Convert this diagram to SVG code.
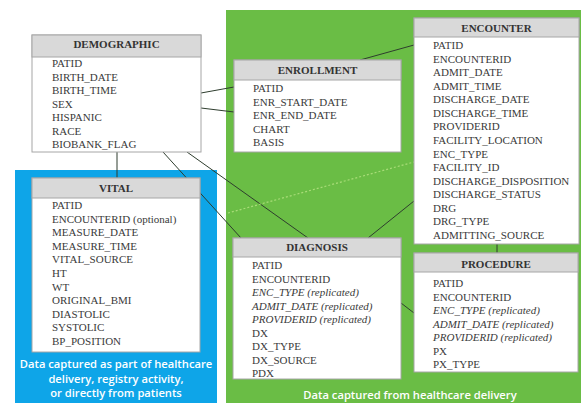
<svg xmlns="http://www.w3.org/2000/svg" width="581" height="403" viewBox="0 0 581 403">
  <style>
    .tbl { fill: #ffffff; stroke: #a6a6a6; stroke-width: 1; }
    .hdr { fill: #d9d9d9; stroke: #a6a6a6; stroke-width: 1; }
    .ttl { font-family: "Liberation Serif", "Times New Roman", serif; font-size: 11px; font-weight: bold; fill: #333333; text-anchor: middle; }
    .fld { font-family: "Liberation Serif", "Times New Roman", serif; font-size: 11px; fill: #3a3a3a; }
    .rep { font-style: italic; }
    .note { font-family: "Open Sans", "Liberation Sans", sans-serif; font-size: 11.2px; font-weight: 600; fill: #ffffff; text-anchor: middle; }
    .link { stroke: #2e3d2e; stroke-width: 1; fill: none; }
    .dots { stroke: #a8dc78; stroke-width: 1.2; stroke-dasharray: 2 2; fill: none; }
  </style>

  <!-- background regions -->
  <rect id="zone-delivery" x="226" y="10" width="355" height="393" fill="#6abd45"/>
  <rect id="zone-registry" x="15" y="170" width="202" height="233" fill="#0ea5e8"/>

  <!-- relationships -->
  <g id="connectors">
    <line class="link" x1="201" y1="93" x2="234" y2="87"/>
    <line class="link" x1="201" y1="108" x2="234" y2="112"/>
    <line class="link" x1="360" y1="60" x2="414" y2="45"/>
    <line class="link" x1="117" y1="152" x2="117" y2="178"/>
    <line class="link" x1="163" y1="152" x2="241" y2="238"/>
    <line class="link" x1="187" y1="152" x2="308" y2="238"/>
    <line class="link" x1="414" y1="201" x2="368" y2="238"/>
    <line class="link" x1="497" y1="244" x2="497" y2="253"/>
    <line class="link" x1="401" y1="303" x2="414" y2="313"/>
    <line class="dots" x1="228" y1="213" x2="414" y2="162"/>
  </g>

  <g id="demographic">
    <rect class="tbl" x="32" y="35" width="169" height="117"/>
    <rect class="hdr" x="32" y="35" width="169" height="22"/>
    <text class="ttl" x="116.5" y="48">DEMOGRAPHIC</text>
    <text class="fld" x="52" y="67">PATID</text>
    <text class="fld" x="52" y="80.5">BIRTH_DATE</text>
    <text class="fld" x="52" y="94">BIRTH_TIME</text>
    <text class="fld" x="52" y="107.5">SEX</text>
    <text class="fld" x="52" y="121">HISPANIC</text>
    <text class="fld" x="52" y="134.5">RACE</text>
    <text class="fld" x="52" y="148">BIOBANK_FLAG</text>
  </g>

  <g id="enrollment">
    <rect class="tbl" x="234" y="60" width="167" height="92"/>
    <rect class="hdr" x="234" y="60" width="167" height="20"/>
    <text class="ttl" x="317.5" y="74">ENROLLMENT</text>
    <text class="fld" x="253" y="92">PATID</text>
    <text class="fld" x="253" y="105.5">ENR_START_DATE</text>
    <text class="fld" x="253" y="119">ENR_END_DATE</text>
    <text class="fld" x="253" y="132.5">CHART</text>
    <text class="fld" x="253" y="146">BASIS</text>
  </g>

  <g id="encounter">
    <rect class="tbl" x="414" y="18" width="165" height="226"/>
    <rect class="hdr" x="414" y="18" width="165" height="19"/>
    <text class="ttl" x="496.5" y="32">ENCOUNTER</text>
    <text class="fld" x="433" y="49">PATID</text>
    <text class="fld" x="433" y="62.6">ENCOUNTERID</text>
    <text class="fld" x="433" y="76.1">ADMIT_DATE</text>
    <text class="fld" x="433" y="89.7">ADMIT_TIME</text>
    <text class="fld" x="433" y="103.3">DISCHARGE_DATE</text>
    <text class="fld" x="433" y="116.9">DISCHARGE_TIME</text>
    <text class="fld" x="433" y="130.4">PROVIDERID</text>
    <text class="fld" x="433" y="144">FACILITY_LOCATION</text>
    <text class="fld" x="433" y="157.6">ENC_TYPE</text>
    <text class="fld" x="433" y="171.1">FACILITY_ID</text>
    <text class="fld" x="433" y="184.7">DISCHARGE_DISPOSITION</text>
    <text class="fld" x="433" y="198.3">DISCHARGE_STATUS</text>
    <text class="fld" x="433" y="211.9">DRG</text>
    <text class="fld" x="433" y="225.4">DRG_TYPE</text>
    <text class="fld" x="433" y="239">ADMITTING_SOURCE</text>
  </g>

  <g id="vital">
    <rect class="tbl" x="32" y="178" width="168" height="174"/>
    <rect class="hdr" x="32" y="178" width="168" height="20"/>
    <text class="ttl" x="116" y="192">VITAL</text>
    <text class="fld" x="52" y="209">PATID</text>
    <text class="fld" x="52" y="222.6">ENCOUNTERID (optional)</text>
    <text class="fld" x="52" y="236.2">MEASURE_DATE</text>
    <text class="fld" x="52" y="249.8">MEASURE_TIME</text>
    <text class="fld" x="52" y="263.4">VITAL_SOURCE</text>
    <text class="fld" x="52" y="277">HT</text>
    <text class="fld" x="52" y="290.6">WT</text>
    <text class="fld" x="52" y="304.2">ORIGINAL_BMI</text>
    <text class="fld" x="52" y="317.8">DIASTOLIC</text>
    <text class="fld" x="52" y="331.4">SYSTOLIC</text>
    <text class="fld" x="52" y="345">BP_POSITION</text>
  </g>

  <g id="diagnosis">
    <rect class="tbl" x="233" y="238" width="168" height="141"/>
    <rect class="hdr" x="233" y="238" width="168" height="19"/>
    <text class="ttl" x="317" y="251">DIAGNOSIS</text>
    <text class="fld" x="252" y="269">PATID</text>
    <text class="fld" x="252" y="282.5">ENCOUNTERID</text>
    <text class="fld rep" x="252" y="296">ENC_TYPE (replicated)</text>
    <text class="fld rep" x="252" y="309.5">ADMIT_DATE (replicated)</text>
    <text class="fld rep" x="252" y="323">PROVIDERID (replicated)</text>
    <text class="fld" x="252" y="336.5">DX</text>
    <text class="fld" x="252" y="350">DX_TYPE</text>
    <text class="fld" x="252" y="363.5">DX_SOURCE</text>
    <text class="fld" x="252" y="377">PDX</text>
  </g>

  <g id="procedure">
    <rect class="tbl" x="414" y="253" width="164" height="119"/>
    <rect class="hdr" x="414" y="253" width="164" height="19"/>
    <text class="ttl" x="496" y="268">PROCEDURE</text>
    <text class="fld" x="433" y="287">PATID</text>
    <text class="fld" x="433" y="300.5">ENCOUNTERID</text>
    <text class="fld rep" x="433" y="314">ENC_TYPE (replicated)</text>
    <text class="fld rep" x="433" y="327.5">ADMIT_DATE (replicated)</text>
    <text class="fld rep" x="433" y="341">PROVIDERID (replicated)</text>
    <text class="fld" x="433" y="354.5">PX</text>
    <text class="fld" x="433" y="368">PX_TYPE</text>
  </g>

  <!-- region captions -->
  <g id="caption-registry">
    <text class="note" x="116" y="368">Data captured as part of healthcare</text>
    <text class="note" x="116" y="383">delivery, registry activity,</text>
    <text class="note" x="116" y="397">or directly from patients</text>
  </g>
  <g id="caption-delivery">
    <text class="note" x="410" y="399">Data captured from healthcare delivery</text>
  </g>
</svg>
